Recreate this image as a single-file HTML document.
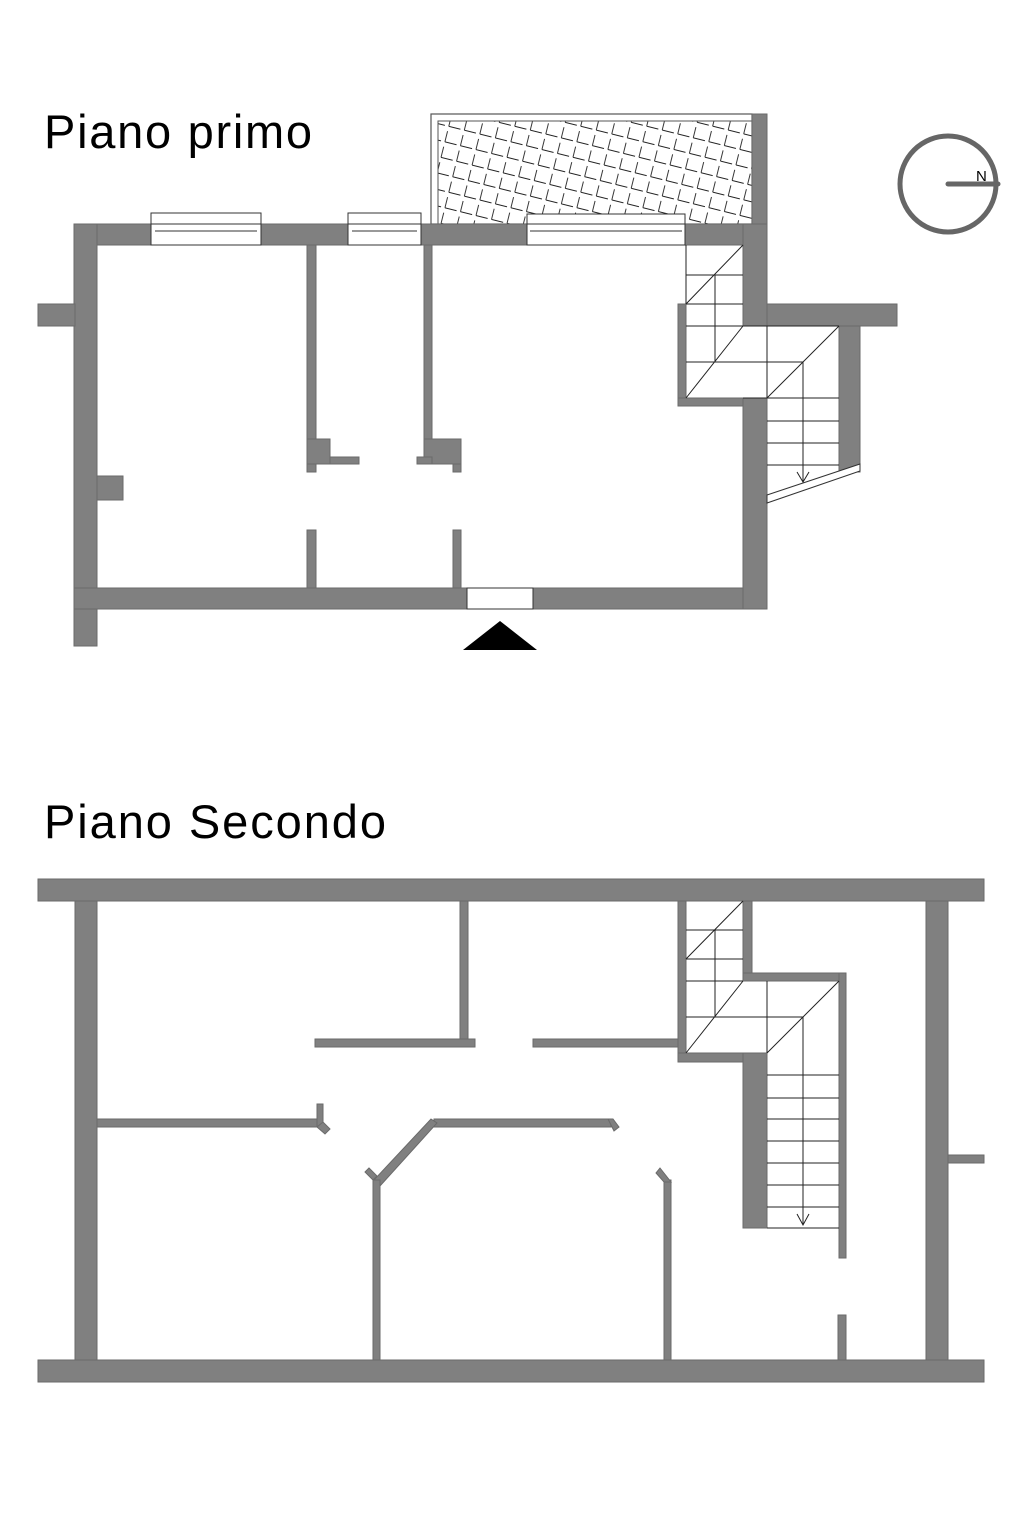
<!DOCTYPE html>
<html><head><meta charset="utf-8"><style>
html,body{margin:0;padding:0;background:#fff;}
svg{display:block;}
</style></head><body>
<svg width="1023" height="1535" viewBox="0 0 1023 1535" xmlns="http://www.w3.org/2000/svg">
<defs>
<pattern id="h" width="16" height="16" patternUnits="userSpaceOnUse" patternTransform="rotate(14)">
<path d="M2 3 V14 M2 14 H14" stroke="#222" stroke-width="0.9" fill="none"/>
</pattern>
</defs>
<g font-family="Liberation Sans, sans-serif" fill="#000">
<text x="44" y="148" font-size="47" textLength="268">Piano primo</text>
<text x="44" y="838" font-size="47" textLength="342">Piano Secondo</text>
</g>

<!-- ===== TOP PLAN ===== -->
<rect x="431" y="114" width="321" height="110" fill="#fff" stroke="#555" stroke-width="1.2"/>
<rect x="438" y="121" width="314" height="103" fill="url(#h)" stroke="#555" stroke-width="1"/>

<g fill="#808080" stroke="#6a6a6a" stroke-width="1">
<rect x="74" y="224" width="693" height="21"/>
<rect x="752" y="114" width="15" height="110"/>
<rect x="74" y="224" width="23" height="422"/>
<rect x="38" y="304" width="37" height="22"/>
<rect x="97" y="476" width="26" height="24"/>
<rect x="74" y="588" width="693" height="21"/>
<rect x="743" y="224" width="24" height="102"/>
<rect x="743" y="398" width="24" height="211"/>
<rect x="767" y="304" width="130" height="22"/>
<rect x="839" y="326" width="21" height="146"/>
<rect x="678" y="304" width="8" height="102"/>
<rect x="678" y="398" width="65" height="8"/>
<rect x="307" y="245" width="9" height="227"/>
<rect x="307" y="439" width="23" height="25"/>
<rect x="330" y="457" width="29" height="7"/>
<rect x="424" y="245" width="8" height="219"/>
<rect x="424" y="439" width="37" height="25"/>
<rect x="417" y="457" width="15" height="7"/>
<rect x="453" y="464" width="8" height="8"/>
<rect x="307" y="530" width="9" height="58"/>
<rect x="453" y="530" width="8" height="58"/>
</g>
<g fill="#fff" stroke="#333" stroke-width="1">
<rect x="151" y="213" width="110" height="11"/>
<rect x="151" y="224" width="110" height="21"/>
<line x1="155" y1="231" x2="257" y2="231"/>
<rect x="348" y="213" width="73" height="11"/>
<rect x="348" y="224" width="73" height="21"/>
<line x1="352" y1="231" x2="417" y2="231"/>
<rect x="527" y="214" width="158" height="10"/>
<rect x="527" y="224" width="158" height="21"/>
<line x1="530" y1="231" x2="682" y2="231"/>
<rect x="467" y="588" width="66" height="21"/>
<polygon points="767,495 860,464 860,471 767,503"/>
</g>
<polygon points="500,621 463,650 537,650" fill="#000"/>
<g stroke="#222" stroke-width="1" fill="none">
<line x1="686" y1="275" x2="743" y2="275"/>
<line x1="686" y1="304" x2="743" y2="304"/>
<line x1="686" y1="326" x2="743" y2="326"/>
<line x1="686" y1="362" x2="803" y2="362"/>
<line x1="715" y1="275" x2="715" y2="362"/>
<line x1="686" y1="304" x2="743" y2="245"/>
<line x1="686" y1="398" x2="743" y2="326"/>
<line x1="686" y1="245" x2="686" y2="304"/>
<line x1="767" y1="326" x2="767" y2="398"/>
<line x1="803" y1="362" x2="803" y2="482"/>
<line x1="767" y1="398" x2="839" y2="326"/>
<line x1="743" y1="326" x2="839" y2="326"/>
<line x1="743" y1="398" x2="839" y2="398"/>
<line x1="767" y1="421" x2="839" y2="421"/>
<line x1="767" y1="443" x2="839" y2="443"/>
<line x1="767" y1="465" x2="839" y2="465"/>
<polyline points="797,472 803,482 809,472"/>
</g>
<circle cx="948" cy="184" r="48" fill="none" stroke="#666" stroke-width="5"/>
<line x1="948" y1="184" x2="998" y2="184" stroke="#666" stroke-width="5" stroke-linecap="round"/>
<text x="976" y="181" font-family="Liberation Sans, sans-serif" font-size="15">N</text>

<!-- ===== BOTTOM PLAN ===== -->
<g fill="#808080" stroke="#6a6a6a" stroke-width="1">
<rect x="38" y="879" width="946" height="22"/>
<rect x="38" y="1360" width="946" height="22"/>
<rect x="75" y="901" width="22" height="459"/>
<rect x="926" y="901" width="22" height="459"/>
<rect x="948" y="1155" width="36" height="8"/>
<rect x="460" y="901" width="8" height="140"/>
<rect x="315" y="1039" width="160" height="8"/>
<rect x="533" y="1039" width="152" height="8"/>
<rect x="97" y="1119" width="223" height="8"/>
<rect x="317" y="1104" width="6" height="23"/>
<polygon points="317,1127 323,1122 330,1129 325,1134"/>
<rect x="434" y="1119" width="177" height="8"/>
<polygon points="608,1119 613,1119 619,1127 614,1131"/>
<polygon points="431,1119 437,1123 380,1186 374,1180"/>
<rect x="373" y="1180" width="7" height="180"/>
<polygon points="373,1180 365,1172 369,1168 377,1176"/>
<rect x="664" y="1180" width="7" height="180"/>
<polygon points="671,1182 664,1182 656,1173 660,1168"/>
<rect x="678" y="901" width="8" height="161"/>
<rect x="678" y="1053" width="89" height="9"/>
<rect x="743" y="1053" width="24" height="175"/>
<rect x="743" y="901" width="9" height="80"/>
<rect x="743" y="973" width="103" height="8"/>
<rect x="839" y="973" width="7" height="285"/>
<rect x="838" y="1315" width="8" height="45"/>
</g>
<g stroke="#222" stroke-width="1" fill="none">
<line x1="686" y1="930" x2="743" y2="930"/>
<line x1="686" y1="959" x2="743" y2="959"/>
<line x1="686" y1="981" x2="743" y2="981"/>
<line x1="686" y1="1017" x2="803" y2="1017"/>
<line x1="715" y1="930" x2="715" y2="1017"/>
<line x1="686" y1="959" x2="743" y2="901"/>
<line x1="686" y1="1053" x2="743" y2="981"/>
<line x1="767" y1="981" x2="767" y2="1053"/>
<line x1="803" y1="1017" x2="803" y2="1225"/>
<line x1="767" y1="1053" x2="839" y2="981"/>
<line x1="767" y1="1075" x2="839" y2="1075"/>
<line x1="767" y1="1098" x2="839" y2="1098"/>
<line x1="767" y1="1119" x2="839" y2="1119"/>
<line x1="767" y1="1141" x2="839" y2="1141"/>
<line x1="767" y1="1163" x2="839" y2="1163"/>
<line x1="767" y1="1185" x2="839" y2="1185"/>
<line x1="767" y1="1207" x2="839" y2="1207"/>
<line x1="767" y1="1228" x2="839" y2="1228"/>
<polyline points="797,1214 803,1225 809,1214"/>
</g>
</svg>
</body></html>
